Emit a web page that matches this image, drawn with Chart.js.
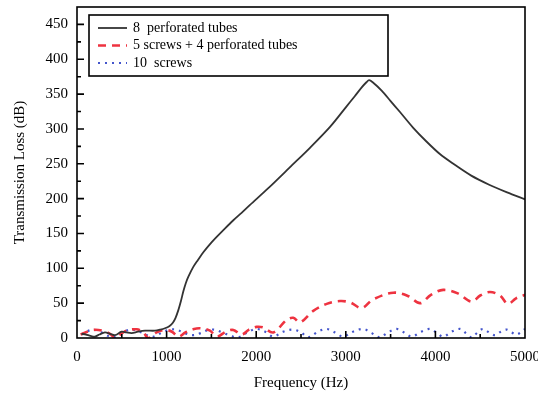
<!DOCTYPE html>
<html>
<head>
<meta charset="utf-8">
<script src="https://cdn.jsdelivr.net/npm/chart.js@4/dist/chart.umd.min.js"></script>
<style>
  body { margin: 0; background: #fff; }
</style>
</head>
<body>
<canvas id="tlChart" width="538" height="394"></canvas>
<script>
// 8 perforated tubes
const tubesFreq = [50, 100, 150, 200, 250, 312, 370, 424, 498, 550, 610, 680, 759, 870, 930, 982,
  1030, 1070, 1100, 1131, 1160, 1187, 1215, 1243, 1298, 1350, 1410, 1480, 1559, 1650, 1745, 1840, 1931, 2135,
  2400, 2600, 2824, 3000, 3100, 3180, 3230, 3260, 3300, 3400, 3500, 3600, 3750, 3900, 4050, 4200, 4400,
  4600, 4800, 5000];
const tubesTL = [6, 5, 3, 2, 5, 8, 6, 4, 9, 8, 7, 9, 10.5, 10.5, 12, 14,
  17, 22, 29, 40, 53, 67, 79, 88, 102, 112, 123, 134, 145, 157, 169, 180, 191, 215,
  248, 273, 303, 331, 347, 360, 367, 370, 367, 355, 340, 325, 302, 282, 264, 250, 233,
  220, 209, 199];

// 5 screws + 4 perforated tubes
const mixFreq = [40, 180, 300, 368, 424, 480, 554, 666, 740, 796, 889, 982, 1060, 1131, 1210, 1295, 1373, 1484, 1559,
  1670, 1745, 1838, 1920, 2005, 2080, 2190, 2340, 2413, 2489, 2637, 2787, 2935, 3050, 3177, 3300, 3530, 3700, 3830,
  3950, 4087, 4250, 4404, 4500, 4609, 4720, 4810, 4900, 5000];
const mixTL = [5, 11.5, 10, 6, 1, 5, 10.5, 12.5, 8, 0, 8, 11.5, 9, 2, 8, 12.5, 14, 10.5, 2,
  9.6, 11.5, 5, 12, 16, 15, 8, 26, 29, 22.5, 39, 49, 53, 51, 43, 55, 65, 60, 50,
  62, 69, 64, 52, 61, 66, 61, 49, 57, 62];

// 10 screws
const screwsFreq = [50, 120, 182, 260, 330, 400, 480, 560, 630, 720, 800, 860, 950, 1030, 1110, 1200, 1300, 1380, 1450,
  1530, 1620, 1720, 1800, 1900, 2000, 2100, 2190, 2300, 2410, 2500, 2580, 2690, 2787, 2880, 2970, 3080, 3195, 3290,
  3382, 3470, 3568, 3650, 3735, 3840, 3940, 4010, 4087, 4180, 4275, 4340, 4404, 4470, 4531, 4600, 4665, 4730, 4795,
  4850, 4907, 5000];
const screwsTL = [5, 10, 12, 9, 4, 1, 6, 11, 12, 8, 3, 2, 8, 12, 12, 7, 4, 7, 11,
  12, 8, 3, 1, 8, 13, 9, 2, 9, 12, 8, 1, 9, 13, 8, 2, 9, 13, 7,
  1, 8, 13, 8, 2, 9, 13, 8, 2, 9, 13, 7, 1, 8, 13, 8, 4, 9, 12,
  8, 5, 13];

const xTicks = [0, 1000, 2000, 3000, 4000, 5000];
const yTicks = [0, 50, 100, 150, 200, 250, 300, 350, 400, 450];

const toPoints = (xs, ys) => xs.map((x, i) => ({x: x, y: ys[i]}));
const serif = '"Liberation Serif", "DejaVu Serif", serif';

const framePlugin = {
    id: 'frame',
    afterDatasetsDraw(chart) {
        const {ctx, chartArea: a, scales} = chart;
        const xs = scales.x, ys = scales.y;
        ctx.save();
        ctx.strokeStyle = '#000';
        ctx.lineWidth = 1.6;
        ctx.strokeRect(a.left, a.top, a.right - a.left, a.bottom - a.top);

        // inward ticks
        ctx.beginPath();
        for (let v = 500; v < 5000; v += 500) {
            const px = xs.getPixelForValue(v);
            const len = v % 1000 === 0 ? 7 : 4;
            ctx.moveTo(px, a.bottom);
            ctx.lineTo(px, a.bottom - len);
        }
        for (let v = 25; v < 475; v += 25) {
            const py = ys.getPixelForValue(v);
            const len = v % 50 === 0 ? 7 : 4;
            ctx.moveTo(a.left, py);
            ctx.lineTo(a.left + len, py);
        }
        ctx.stroke();

        // legend box
        const bx = 89, by = 15, bw = 299, bh = 61;
        ctx.fillStyle = '#fff';
        ctx.fillRect(bx, by, bw, bh);
        ctx.lineWidth = 1.6;
        ctx.strokeRect(bx, by, bw, bh);
        const rows = [28, 45.5, 63];
        ctx.font = '14px ' + serif;
        ctx.textBaseline = 'middle';
        chart.data.datasets.forEach((ds, i) => {
            const ry = rows[i];
            ctx.beginPath();
            ctx.strokeStyle = ds.borderColor;
            ctx.lineWidth = ds.borderWidth;
            ctx.setLineDash(ds.borderDash || []);
            ctx.moveTo(98, ry);
            ctx.lineTo(127, ry);
            ctx.stroke();
            ctx.setLineDash([]);
            ctx.fillStyle = '#000';
            ctx.fillText(ds.label, 133, ry);
        });
        ctx.restore();
    }
};

new Chart(document.getElementById('tlChart'), {
    type: 'line',
    data: {
        datasets: [{
            label: '8  perforated tubes',
            data: toPoints(tubesFreq, tubesTL),
            borderColor: '#333333',
            borderWidth: 1.8,
            tension: 0.3
        }, {
            label: '5 screws + 4 perforated tubes',
            data: toPoints(mixFreq, mixTL),
            borderColor: '#ee3340',
            borderWidth: 2.6,
            borderDash: [8, 6],
            tension: 0.35
        }, {
            label: '10  screws',
            data: toPoints(screwsFreq, screwsTL),
            borderColor: '#4455cc',
            borderWidth: 2.2,
            borderDash: [2, 5],
            tension: 0.35
        }]
    },
    options: {
        responsive: false,
        animation: false,
        events: [],
        elements: { point: { radius: 0 } },
        layout: { padding: { top: 7, right: 13, left: 0, bottom: 0 } },
        plugins: {
            legend: { display: false },
            tooltip: { enabled: false }
        },
        scales: {
            x: {
                type: 'linear',
                min: 0,
                max: 5000,
                grid: { display: false, drawTicks: false },
                border: { display: false },
                afterBuildTicks: (s) => { s.ticks = xTicks.map(v => ({value: v})); },
                afterFit: (s) => { s.height = 56; s.paddingLeft = 0; s.paddingRight = 0; },
                ticks: {
                    color: '#000', padding: 10, maxRotation: 0,
                    font: { family: serif, size: 15 },
                    callback: (v) => String(v)
                },
                title: {
                    display: true,
                    text: 'Frequency (Hz)',
                    color: '#000',
                    padding: { top: 0, bottom: 2 },
                    font: { family: serif, size: 15 }
                }
            },
            y: {
                min: 0,
                max: 475,
                grid: { display: false, drawTicks: false },
                border: { display: false },
                afterBuildTicks: (s) => { s.ticks = yTicks.map(v => ({value: v})); },
                afterFit: (s) => { s.width = 77; s.paddingTop = 0; s.paddingBottom = 0; },
                ticks: {
                    color: '#000', padding: 9,
                    font: { family: serif, size: 15 },
                    callback: (v) => String(v)
                },
                title: {
                    display: true,
                    text: 'Transmission Loss (dB)',
                    color: '#000',
                    padding: { top: 11, bottom: 0 },
                    font: { family: serif, size: 15 }
                }
            }
        }
    },
    plugins: [framePlugin]
});
</script>
</body>
</html>
